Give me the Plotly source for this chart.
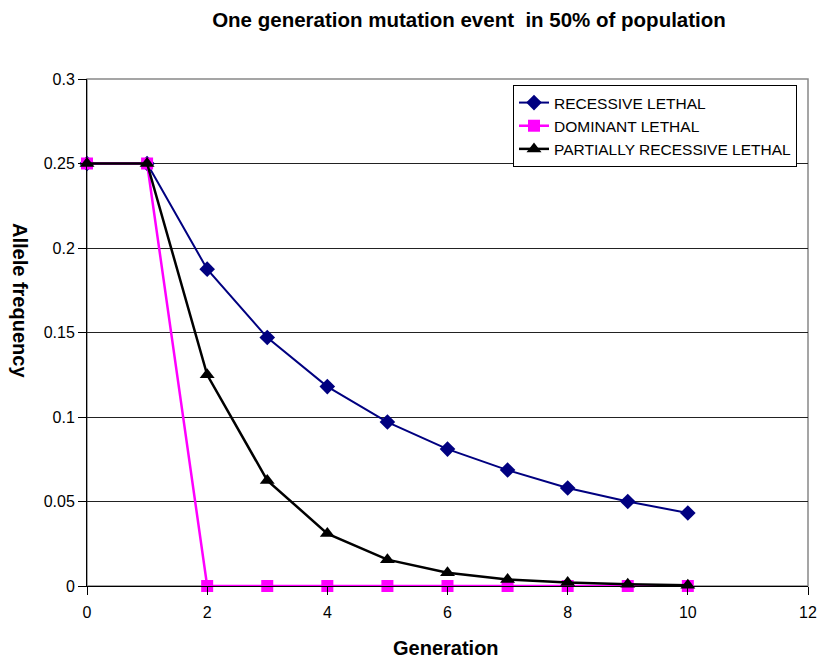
import plotly.graph_objects as go

generations = [0, 1, 2, 3, 4, 5, 6, 7, 8, 9, 10]
recessive = [0.25, 0.25, 0.1875, 0.147, 0.118, 0.097, 0.081, 0.0686, 0.058, 0.050, 0.0432]
dominant = [0.25, 0.25, 0, 0, 0, 0, 0, 0, 0, 0, 0]
partial = [0.25, 0.25, 0.125, 0.0625, 0.031, 0.0156, 0.0078, 0.0039, 0.002, 0.001, 0.0005]

x_ticks = [0, 2, 4, 6, 8, 10, 12]
y_ticks = [0, 0.05, 0.1, 0.15, 0.2, 0.25, 0.3]
y_labels = ["0", "0.05", "0.1", "0.15", "0.2", "0.25", "0.3"]

FONT = "Liberation Sans, Arial, sans-serif"

L, R, T, B = 87, 808, 79, 586
W, H = 817, 659
pw, ph = R - L, B - T

fig = go.Figure()
fig.add_trace(go.Scatter(x=generations, y=recessive, mode="lines+markers",
                         name="RECESSIVE LETHAL", cliponaxis=False,
                         line=dict(color="#000080", width=2),
                         marker=dict(symbol="diamond", size=12, color="#000080")))
fig.add_trace(go.Scatter(x=generations, y=dominant, mode="lines+markers",
                         name="DOMINANT LETHAL", cliponaxis=False,
                         line=dict(color="#FF00FF", width=2.5),
                         marker=dict(symbol="square", size=12, color="#FF00FF")))
fig.add_trace(go.Scatter(x=generations, y=partial, mode="lines+markers",
                         name="PARTIALLY RECESSIVE LETHAL", cliponaxis=False,
                         line=dict(color="#000000", width=2.5),
                         marker=dict(symbol="triangle-up", size=13, color="#000000")))

fig.update_layout(
    width=W, height=H,
    margin=dict(l=L, r=W - R, t=T, b=H - B, autoexpand=False),
    paper_bgcolor="white", plot_bgcolor="white",
    font=dict(family=FONT, size=16, color="black"),
    title=dict(text="<b>One generation mutation event  in 50% of population</b>",
               x=469 / W, xanchor="center", xref="container",
               y=1 - 20 / H, yanchor="middle", yref="container",
               font=dict(family=FONT, size=20.5, color="black")),
    showlegend=True,
    legend=dict(x=(513 - L) / pw, xanchor="left",
                y=1 - (85 - T) / ph, yanchor="top",
                bgcolor="white", bordercolor="black", borderwidth=1,
                font=dict(family=FONT, size=15.5, color="black"),
                tracegroupgap=0, itemwidth=30),
    xaxis=dict(range=[0, 12], tickvals=x_ticks, ticktext=[str(v) for v in x_ticks],
               showgrid=False, zeroline=False,
               showline=True, linecolor="black", linewidth=1,
               ticks="outside", ticklen=8, tickcolor="black",
               ticklabelstandoff=4,
               tickfont=dict(size=16)),
    yaxis=dict(range=[0, 0.3], tickvals=y_ticks, ticktext=y_labels,
               showgrid=True, gridcolor="#222222", gridwidth=1,
               zeroline=False,
               showline=True, linecolor="black", linewidth=1,
               ticks="outside", ticklen=8, tickcolor="black",
               tickfont=dict(size=16)),
    annotations=[
        dict(text="<b>Generation</b>", x=(446 - L) / pw, y=-(648 - B) / ph,
             xref="paper", yref="paper", showarrow=False,
             xanchor="center", yanchor="middle",
             font=dict(family=FONT, size=20, color="black")),
        dict(text="<b>Allele frequency</b>", x=-(L - 20) / pw, y=(B - 300) / ph,
             xref="paper", yref="paper", showarrow=False, textangle=90,
             xanchor="center", yanchor="middle",
             font=dict(family=FONT, size=20, color="black")),
    ],
    shapes=[dict(type="rect", xref="x domain", yref="y domain",
                 x0=0, x1=1, y0=0, y1=1,
                 line=dict(color="#888888", width=1.5), layer="below")],
)

fig.write_html("out.html")
